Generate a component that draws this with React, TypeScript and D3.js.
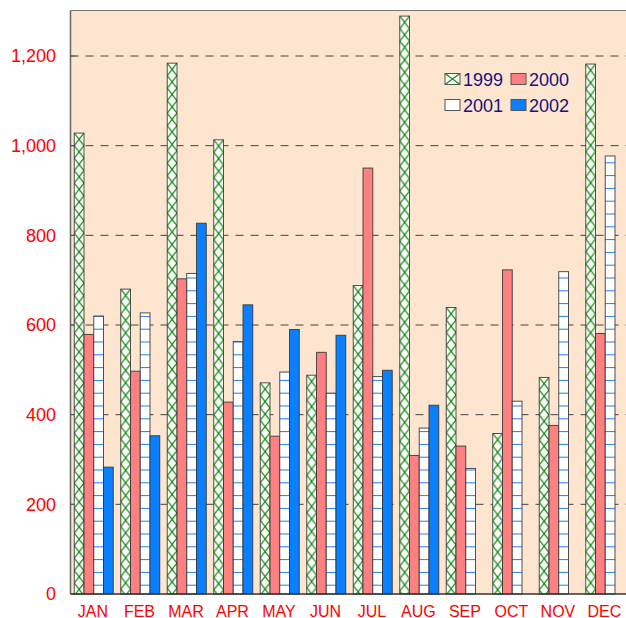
import React from "react";
import * as d3 from "d3";

const months = ["JAN", "FEB", "MAR", "APR", "MAY", "JUN", "JUL", "AUG", "SEP", "OCT", "NOV", "DEC"];
const seriesNames = ["1999", "2000", "2001", "2002"];
const v1999 = [1028, 680, 1184, 1013, 471, 488, 688, 1289, 639, 358, 483, 1182];
const v2000 = [579, 497, 703, 428, 352, 539, 950, 309, 330, 723, 376, 581];
const v2001 = [620, 627, 715, 563, 495, 448, 485, 370, 280, 430, 719, 977];
const v2002: (number | null)[] = [283, 353, 827, 645, 590, 577, 499, 421, null, null, null, null];
const yTicks = [0, 200, 400, 600, 800, 1000, 1200];

const W = 626;
const H = 618;
const left = 70.5;
const right = 628.5;
const top = 10.5;
const bottom = 594;

const FONT = "'Liberation Sans', Arial, sans-serif";
const GREEN = "#128c12";
const SALMON = "#ff8080";
const BLUE = "#0a80ff";
const LINEBLUE = "#1a7fff";
const BG = "#fde5cf";
const NAVY = "#14147e";

export default function App() {
  const x = d3.scaleBand<string>().domain(months).range([left, right]).padding(0);
  const xi = d3
    .scaleBand<string>()
    .domain(seriesNames)
    .range([0, x.bandwidth()])
    .paddingInner(0)
    .paddingOuter(0.385);
  const y = d3.scaleLinear().domain([0, 1200]).range([bottom, 56]);

  const data = [v1999, v2000, v2001, v2002];
  const bw = xi.bandwidth();
  const ph = 12.5;

  const bars: React.ReactNode[] = [];
  const patterns: React.ReactNode[] = [];

  months.forEach((m, i) => {
    data.forEach((arr, s) => {
      const v = arr[i];
      if (v == null) return;
      const bx = (x(m) as number) + (xi(seriesNames[s]) as number);
      const by = y(v);
      const bh = bottom - by;
      let fill = SALMON;
      if (s === 0) {
        const pid = `hatch-${i}`;
        patterns.push(
          <pattern key={pid} id={pid} patternUnits="userSpaceOnUse" x={bx} y={by} width={bw} height={ph}>
            <rect x={0} y={0} width={bw} height={ph} fill="#ffffff" />
            <path d={`M0,0L${bw},${ph}M${bw},0L0,${ph}`} stroke={GREEN} strokeWidth={1.3} fill="none" />
            <circle cx={bw / 2} cy={ph / 2} r={0.9} fill={GREEN} />
          </pattern>
        );
        fill = `url(#${pid})`;
      } else if (s === 1) fill = SALMON;
      else if (s === 2) fill = "url(#hlines)";
      else fill = BLUE;
      bars.push(
        <rect
          key={`b-${i}-${s}`}
          x={bx}
          y={by}
          width={bw}
          height={bh}
          fill={fill}
          stroke="#333"
          strokeOpacity={0.85}
          strokeWidth={1}
        />
      );
    });
  });

  const legendItems = [
    { name: "1999", x: 445, y: 73.5 },
    { name: "2000", x: 511, y: 73.5 },
    { name: "2001", x: 445, y: 99.5 },
    { name: "2002", x: 511, y: 99.5 },
  ];

  return (
    <div style={{ position: "absolute", left: 0, top: 0 }}>
      <svg width={W} height={H} style={{ display: "block", fontFamily: FONT }}>
        <defs>
          <pattern id="hlines" patternUnits="userSpaceOnUse" x={0} y={585.2 - 0.5} width={W} height={12.8}>
            <rect x={0} y={0} width={W} height={12.8} fill="#ffffff" />
            <rect x={0} y={0} width={W} height={1} fill={LINEBLUE} />
          </pattern>
          {patterns}
        </defs>
        <rect x={0} y={0} width={W} height={H} fill="#ffffff" />
        <rect x={left} y={top} width={right - left} height={bottom - top} fill={BG} />
        {yTicks
          .filter((t) => t > 0)
          .map((t) => (
            <line
              key={`g${t}`}
              x1={left}
              x2={right}
              y1={y(t)}
              y2={y(t)}
              stroke="#444"
              strokeWidth={1}
              strokeDasharray="8,7"
            />
          ))}
        <line x1={left} x2={right} y1={top} y2={top} stroke="#777" strokeWidth={1.2} />
        <line x1={left} x2={left} y1={top} y2={bottom} stroke="#666" strokeWidth={1.5} />
        {yTicks.map((t) => (
          <line key={`t${t}`} x1={left} x2={left + 5} y1={y(t)} y2={y(t)} stroke="#555" strokeWidth={1} />
        ))}
        {bars}
        <line x1={left} x2={right} y1={bottom} y2={bottom} stroke="#333" strokeWidth={1.5} />
        {yTicks.map((t) => (
          <text
            key={`yl${t}`}
            x={56}
            y={y(t)}
            dy="0.36em"
            textAnchor="end"
            fontSize={18}
            fill="#ff0000"
          >
            {d3.format(",")(t)}
          </text>
        ))}
        {months.map((m) => (
          <text
            key={`xl${m}`}
            x={(x(m) as number) + x.bandwidth() / 2 - 0.8}
            y={616.5}
            textAnchor="middle"
            fontSize={16}
            fill="#ff0000"
          >
            {m}
          </text>
        ))}
        {legendItems.map((it, k) => (
          <g key={`lg${k}`}>
            {k === 0 ? (
              <g>
                <rect x={it.x} y={it.y} width={15} height={11} fill="#fff" stroke="#555" strokeWidth={1} />
                <path
                  d={`M${it.x},${it.y}L${it.x + 15},${it.y + 11}M${it.x + 15},${it.y}L${it.x},${it.y + 11}`}
                  stroke={GREEN}
                  strokeWidth={1.2}
                />
              </g>
            ) : (
              <rect
                x={it.x}
                y={it.y}
                width={15}
                height={11}
                fill={k === 1 ? SALMON : k === 2 ? "#fff" : BLUE}
                stroke="#555"
                strokeWidth={1}
              />
            )}
            <text x={it.x + 18} y={it.y + 12.8} fontSize={18} fill={NAVY}>
              {it.name}
            </text>
          </g>
        ))}
      </svg>
    </div>
  );
}
